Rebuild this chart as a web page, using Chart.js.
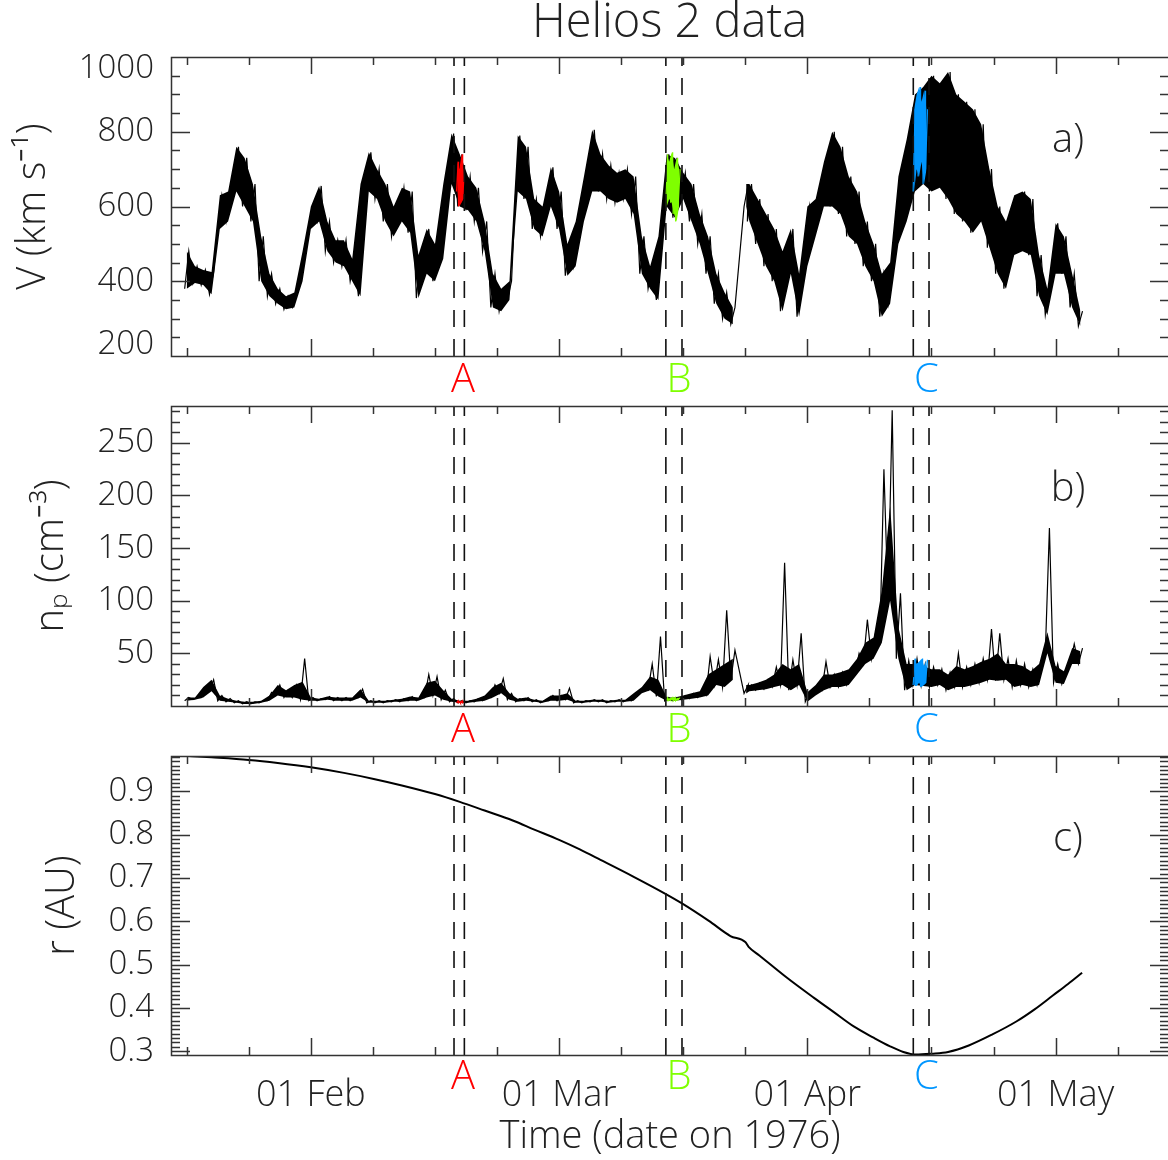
<!DOCTYPE html>
<html>
<head>
<meta charset="utf-8">
<title>Helios 2 data</title>
<script src="https://cdn.jsdelivr.net/npm/chart.js@4.4.1/dist/chart.umd.min.js"></script>
<style>
  html, body { margin: 0; padding: 0; background: #fff; overflow: hidden; }
  #wrap { position: relative; width: 1168px; height: 1160px; overflow: hidden; background: #fff; }
  canvas { position: absolute; left: 0; }
</style>
</head>
<body>
<div id="wrap">
  <canvas id="panelA" width="1170" height="400" style="top:0px"></canvas>
  <canvas id="panelB" width="1170" height="350" style="top:400px"></canvas>
  <canvas id="panelC" width="1170" height="410" style="top:750px"></canvas>
</div>
<script>
// x values are days of 1976 (1 = 01 Jan)
var xTicks = [17, 24.5, 32, 39.5, 47, 54.5, 62, 69.5, 77, 84.5, 92, 99.5, 107, 114.5, 122, 129.5];
var xMajor = [32, 62, 92, 122];
var xMajorLabels = ["01 Feb", "01 Mar", "01 Apr", "01 May"];
var xMin = 15.1, xMax = 135.7;

// intervals A, B, C (dashed lines)
var markA = [49.3, 50.55];
var markB = [74.9, 76.85];
var markC = [104.8, 106.7];
var markLetters = ["A", "B", "C"];
var markLetterDays = [50.4, 76.5, 106.4];
var markColors = ["#ff0000", "#7fff00", "#0096ff"];

// solar wind samples: one low/high pair per day (no data between 83 and 84.6)
var obsDays = [17, 18, 19, 20, 21, 22, 23, 24, 25, 26, 27, 28, 29, 30, 31, 32, 33, 34, 35, 36,
    37, 38, 39, 40, 41, 42, 43, 44, 45, 46, 47, 48, 49, 50, 51, 52, 53, 54, 55, 56,
    57, 58, 59, 60, 61, 62, 63, 64, 65, 66, 67, 68, 69, 70, 71, 72, 73, 74, 75, 76,
    77, 78, 79, 80, 81, 82, 83, 84.6, 85, 86, 87, 88, 89, 90, 91, 92, 93, 94, 95, 96,
    97, 98, 99, 100, 101, 102, 103, 104, 105, 106, 107, 108, 109, 110, 111, 112, 113, 114, 115, 116,
    117, 118, 119, 120, 121, 122, 123, 124, 125];
var dataGapBefore = [84.6];

var vLow = [380, 395, 390, 365, 540, 560, 640, 600, 560, 400, 360, 340, 325, 330, 400, 540, 560, 480, 450, 440,
    400, 360, 640, 620, 560, 520, 560, 530, 355, 420, 400, 460, 660, 600, 590, 560, 480, 330, 320, 350,
    640, 620, 540, 520, 600, 540, 415, 440, 560, 640, 640, 620, 610, 620, 580, 420, 380, 350, 600, 570,
    620, 560, 500, 420, 340, 300, 285, 600, 560, 500, 440, 400, 320, 420, 305, 440, 520, 600, 600, 580,
    520, 500, 440, 400, 305, 340, 500, 560, 640, 660, 640, 650, 620, 580, 560, 530, 560, 490, 420, 380,
    470, 480, 470, 360, 310, 420, 420, 330, 280];
var vHigh = [480, 440, 430, 425, 630, 640, 760, 730, 660, 520, 420, 380, 360, 370, 480, 600, 655, 560, 510, 510,
    460, 660, 745, 700, 660, 600, 650, 640, 470, 540, 500, 660, 795, 740, 680, 650, 560, 420, 380, 400,
    790, 760, 620, 600, 705, 640, 500, 560, 680, 805, 740, 710, 690, 700, 680, 520, 440, 520, 740, 730,
    690, 660, 580, 520, 420, 370, 330, 660, 660, 620, 580, 540, 480, 540, 420, 600, 620, 720, 800, 760,
    680, 640, 560, 500, 420, 450, 680, 780, 900, 920, 950, 930, 960, 900, 880, 860, 820, 700, 600, 560,
    630, 640, 620, 470, 380, 555, 520, 420, 320];

// density: dense band (low/high) and the tops of the isolated spikes
var npLow = [5, 6, 8, 14, 5, 4, 3, 2, 2, 3, 5, 10, 8, 8, 6, 5, 5, 6, 5, 5,
    5, 8, 3, 3, 3, 4, 4, 5, 5, 8, 10, 6, 4, 3, 3, 4, 5, 8, 12, 6,
    4, 5, 4, 3, 5, 5, 6, 3, 3, 4, 4, 3, 4, 4, 5, 12, 15, 9, 5, 5,
    6, 7, 8, 10, 20, 18, 25, 12, 14, 15, 16, 18, 20, 15, 20, 4, 10, 15, 18, 18,
    20, 30, 40, 45, 60, 100, 45, 15, 20, 19, 18, 20, 15, 18, 18, 20, 22, 25, 24, 25,
    18, 20, 18, 20, 50, 22, 21, 40, 40];
var npHigh = [8, 8, 18, 25, 10, 7, 5, 4, 4, 5, 10, 20, 15, 20, 23, 8, 7, 9, 8, 8,
    8, 16, 5, 5, 5, 6, 7, 9, 8, 22, 24, 15, 7, 5, 5, 7, 10, 18, 22, 12,
    7, 8, 6, 5, 10, 10, 12, 5, 5, 6, 6, 5, 6, 6, 12, 18, 28, 25, 8, 8,
    10, 12, 14, 30, 35, 40, 45, 20, 20, 22, 25, 30, 40, 35, 40, 13, 20, 30, 30, 32,
    35, 45, 60, 65, 110, 190, 75, 40, 40, 38, 35, 35, 30, 38, 35, 38, 42, 45, 50, 40,
    40, 38, 33, 40, 70, 38, 33, 55, 52];
var npPeak = [8, 8, 18, 25, 10, 7, 5, 4, 4, 5, 13, 20, 15, 20, 45, 8, 7, 9, 8, 8,
    8, 16, 5, 5, 5, 6, 7, 9, 8, 30, 28, 15, 7, 5, 5, 7, 10, 20, 26, 12,
    7, 8, 6, 5, 10, 10, 17, 5, 5, 6, 6, 5, 6, 6, 12, 18, 40, 66, 8, 8,
    10, 12, 14, 47, 44, 91, 53, 20, 20, 22, 25, 37, 136, 44, 69, 13, 20, 42, 30, 32,
    35, 50, 82, 70, 225, 281, 107, 43, 45, 40, 37, 35, 32, 50, 37, 40, 45, 73, 69, 45,
    43, 40, 35, 43, 169, 40, 35, 59, 55];

// coloured samples inside the A, B, C intervals
var redDays = [49.7, 49.95, 50.2, 50.45];
var redVLow = [640, 600, 610, 620];
var redVHigh = [720, 700, 740, 700];
var redNpLow = [3, 3, 3, 3];
var redNpHigh = [5, 4, 5, 4];

var greenDays = [75.0, 75.3, 75.6, 75.9, 76.2, 76.5];
var greenVLow = [600, 620, 610, 580, 560, 600];
var greenVHigh = [740, 720, 745, 700, 730, 700];
var greenNpLow = [5, 5, 6, 5, 5, 6];
var greenNpHigh = [8, 7, 8, 8, 7, 8];

var blueDays = [104.9, 105.2, 105.5, 105.8, 106.1, 106.4];
var blueVLow = [640, 700, 680, 720, 660, 700];
var blueVHigh = [860, 900, 920, 880, 910, 860];
var blueNpLow = [20, 19, 22, 18, 20, 22];
var blueNpHigh = [45, 40, 42, 45, 38, 44];

// heliocentric distance
var rDays = [16.5, 20, 24.5, 28, 32, 36, 39.6, 43, 47, 50, 53, 56.4, 59, 62, 64.5, 67, 70.9, 74.9, 76.8,
    80.1, 82.7, 84.5, 84.9, 86.2, 89.5, 92.8, 95.2, 97.6, 100, 102, 103.6, 105.1, 107, 109, 111.5,
    114.3, 117.3, 119.5, 121.7, 123.5, 125.2];
var rVals = [0.983, 0.979, 0.973, 0.966, 0.956, 0.943, 0.929, 0.914, 0.894, 0.876, 0.856, 0.833, 0.812,
    0.788, 0.766, 0.742, 0.704, 0.663, 0.642, 0.601, 0.566, 0.552, 0.541, 0.521, 0.470, 0.423, 0.390,
    0.357, 0.331, 0.311, 0.298, 0.292, 0.294, 0.298, 0.313, 0.338, 0.369, 0.397, 0.429, 0.455, 0.481];

var FONT = "'Open Sans', 'DejaVu Sans', sans-serif";
Chart.defaults.font.family = FONT;
Chart.defaults.font.weight = 300;
Chart.defaults.color = "#222";
Chart.defaults.animation = false;

function zigzag(days, lo, hi, half) {
    var pts = [];
    for (var i = 0; i < days.length; i++) {
        pts.push({ x: days[i] - half, y: lo[i] });
        pts.push({ x: days[i] + half, y: hi[i] });
    }
    return pts;
}

// points for the filled envelope, broken where the record has no data
function envelope(days, vals) {
    var pts = [];
    for (var i = 0; i < days.length; i++) {
        if (dataGapBefore.indexOf(days[i]) >= 0) pts.push({ x: days[i] - 0.3, y: null });
        pts.push({ x: days[i], y: vals[i] });
    }
    return pts;
}

function pairs(days, vals) {
    return days.map(function (d, i) { return { x: d, y: vals[i] }; });
}

function trace(days, lo, hi, color, half, order) {
    return { data: zigzag(days, lo, hi, half), borderColor: color, borderWidth: 1.2, pointRadius: 0,
        fill: false, order: order };
}

// filled envelope (hi filled down to lo) plus the jagged trace (lo to top) over it
function band(days, lo, hi, top, color, half, order) {
    return [
        { data: envelope(days, hi), borderWidth: 0, borderColor: color, backgroundColor: color,
          fill: "+1", pointRadius: 0, spanGaps: false, order: order },
        { data: envelope(days, lo), borderWidth: 0, borderColor: color, pointRadius: 0,
          fill: false, spanGaps: false, order: order },
        trace(days, lo, top, color, half, order)
    ];
}

function markerSets(yMin, yMax) {
    var sets = [];
    [markA, markB, markC].forEach(function (pair) {
        pair.forEach(function (d) {
            sets.push({
                data: [{ x: d, y: yMin }, { x: d, y: yMax }],
                borderColor: "#111",
                borderWidth: 1.6,
                borderDash: [17, 12],
                pointRadius: 0,
                fill: false,
                order: 0
            });
        });
    });
    return sets;
}

// IDL style frame: inward ticks on all four sides, letters, panel tag
var idlFrame = {
    id: "idlFrame",
    afterDraw: function (chart) {
        var o = chart.options.plugins.idlFrame;
        if (!o) return;
        var ctx = chart.ctx, a = chart.chartArea;
        var xs = chart.scales.x, ys = chart.scales.y;

        ctx.save();
        ctx.strokeStyle = "#333";
        ctx.lineWidth = 1.5;
        ctx.beginPath();
        ctx.rect(a.left + 0.5, a.top + 0.5, a.right - a.left, a.bottom - a.top);
        xTicks.forEach(function (v) {
            var px = Math.round(xs.getPixelForValue(v)) + 0.5;
            var len = xMajor.indexOf(v) >= 0 ? 17 : 8;
            ctx.moveTo(px, a.bottom); ctx.lineTo(px, a.bottom - len);
            ctx.moveTo(px, a.top); ctx.lineTo(px, a.top + len);
        });
        var k0 = Math.ceil(ys.min / o.yMinor - 1e-6);
        for (var k = k0; k * o.yMinor <= ys.max + 1e-9; k++) {
            var v = k * o.yMinor;
            var r = v / o.yMajor;
            var len = Math.abs(r - Math.round(r)) < 1e-6 ? 19 : 9;
            var py = Math.round(ys.getPixelForValue(v)) + 0.5;
            ctx.moveTo(a.left, py); ctx.lineTo(a.left + len, py);
            ctx.moveTo(a.right, py); ctx.lineTo(a.right - len, py);
        }
        ctx.stroke();

        ctx.textAlign = "center";
        ctx.textBaseline = "middle";
        ctx.font = "300 40px " + FONT;
        ctx.fillStyle = "#222";
        ctx.fillText(o.tag, xs.getPixelForValue(123.5), a.top + o.tagDy);
        markLetters.forEach(function (t, i) {
            ctx.fillStyle = markColors[i];
            ctx.fillText(t, xs.getPixelForValue(markLetterDays[i]), a.bottom + o.letterDy);
        });
        if (o.title) {
            ctx.fillStyle = "#222";
            ctx.font = "300 47px " + FONT;
            ctx.fillText(o.title, (a.left + 1168) / 2, 24);
        }
        ctx.restore();
    }
};

function makePanel(id, p) {
    var xScale = {
        type: "linear",
        min: xMin,
        max: xMax,
        display: false
    };
    if (p.timeAxis) {
        xScale = {
            type: "linear",
            min: xMin,
            max: xMax,
            grid: { display: false, drawTicks: false },
            border: { display: false },
            afterBuildTicks: function (s) {
                s.ticks = xTicks.map(function (v) { return { value: v }; });
            },
            afterFit: function (s) {
                s.height = 105;
                s.paddingLeft = 0;
                s.paddingRight = 0;
            },
            ticks: {
                autoSkip: false,
                maxRotation: 0,
                padding: 19,
                font: { size: 36 },
                color: "#222",
                callback: function (v) {
                    var i = xMajor.indexOf(v);
                    return i >= 0 ? xMajorLabels[i] : "";
                }
            },
            title: {
                display: true,
                text: "Time (date on 1976)",
                font: { size: 38 },
                color: "#222",
                padding: { top: 0, bottom: 0 }
            }
        };
    }

    return new Chart(document.getElementById(id), {
        type: "line",
        data: { datasets: p.datasets },
        options: {
            responsive: false,
            animation: false,
            layout: { padding: { top: p.padTop, bottom: p.padBottom, left: 0, right: 1 } },
            plugins: {
                legend: { display: false },
                tooltip: { enabled: false },
                filler: { propagate: false },
                idlFrame: p.frame
            },
            scales: {
                x: xScale,
                y: {
                    type: "linear",
                    min: p.yMin,
                    max: p.yMax,
                    afterFit: function (s) {
                        s.width = 171;
                        s.paddingTop = 0;
                        s.paddingBottom = 0;
                    },
                    grid: { display: false, drawTicks: false },
                    border: { display: false },
                    ticks: {
                        stepSize: p.yStep,
                        includeBounds: false,
                        padding: 17,
                        // lineHeight only matters for the padded end labels of panel a
                        font: { size: 33, lineHeight: 0.68 },
                        color: "#222",
                        callback: p.yLabel
                    },
                    title: {
                        display: true,
                        text: p.yTitle,
                        font: { size: 40 },
                        color: "#222",
                        padding: { top: p.yTitlePad, bottom: 0 }
                    }
                }
            }
        },
        plugins: [idlFrame]
    });
}

// a) solar wind speed
makePanel("panelA", {
    padTop: 57, padBottom: 44,
    yMin: 200, yMax: 1000, yStep: 200,
    yTitle: "V (km s\u207B\u00B9)", yTitlePad: 10,
    // end labels sit inside the frame, as in the IDL plot
    yLabel: function (v) {
        if (v === 1000) return ["", "1000"];
        if (v === 200) return ["200", ""];
        return String(v);
    },
    frame: { yMinor: 50, yMajor: 200, tag: "a)", tagDy: 84, letterDy: 25, title: "Helios 2 data" },
    datasets: []
        .concat(band(obsDays, vLow, vHigh, vHigh, "#000", 0.25, 3))
        .concat(band(redDays, redVLow, redVHigh, redVHigh, markColors[0], 0.1, 2))
        .concat(band(greenDays, greenVLow, greenVHigh, greenVHigh, markColors[1], 0.12, 2))
        .concat(band(blueDays, blueVLow, blueVHigh, blueVHigh, markColors[2], 0.12, 2))
        .concat(markerSets(200, 1000))
});

// b) proton density
makePanel("panelB", {
    padTop: 6, padBottom: 44,
    yMin: 0, yMax: 285, yStep: 50,
    yTitle: "n\u209A (cm\u207B\u00B3)", yTitlePad: 28,
    yLabel: function (v) { return v === 0 ? "" : String(v); },
    frame: { yMinor: 10, yMajor: 50, tag: "b)", tagDy: 84, letterDy: 25 },
    datasets: []
        .concat(band(obsDays, npLow, npHigh, npPeak, "#000", 0.25, 3))
        .concat(band(redDays, redNpLow, redNpHigh, redNpHigh, markColors[0], 0.1, 2))
        .concat(band(greenDays, greenNpLow, greenNpHigh, greenNpHigh, markColors[1], 0.12, 2))
        .concat(band(blueDays, blueNpLow, blueNpHigh, blueNpHigh, markColors[2], 0.12, 2))
        .concat(markerSets(0, 285))
});

// c) heliocentric distance
makePanel("panelC", {
    padTop: 6, padBottom: 0, timeAxis: true,
    yMin: 0.291, yMax: 0.982, yStep: 0.1,
    yTitle: "r (AU)", yTitlePad: 39,
    yLabel: function (v) { return v.toFixed(1); },
    frame: { yMinor: 0.01, yMajor: 0.1, tag: "c)", tagDy: 84, letterDy: 23 },
    datasets: [{
        data: pairs(rDays, rVals),
        borderColor: "#000",
        borderWidth: 2,
        pointRadius: 0,
        fill: false,
        cubicInterpolationMode: "monotone",
        order: 3
    }].concat(markerSets(0.291, 0.982))
});
</script>
</body>
</html>
